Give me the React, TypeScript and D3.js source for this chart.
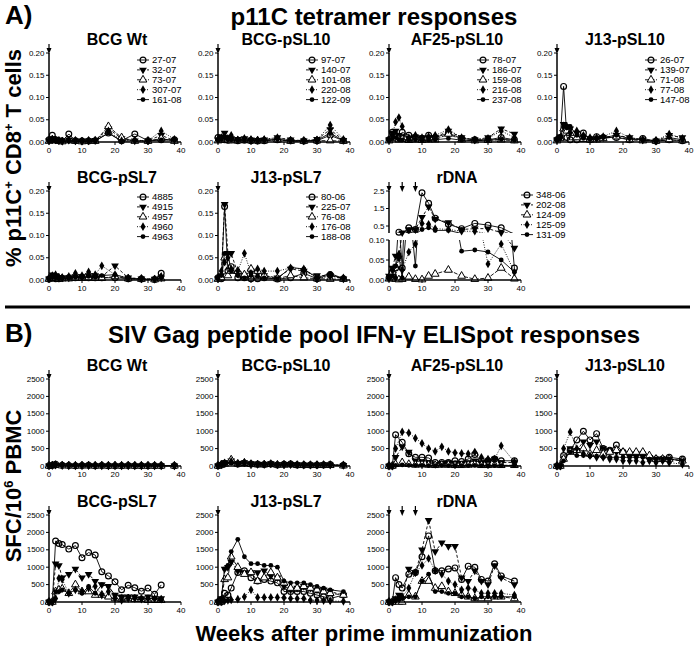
import React from 'react';
import * as d3 from 'd3';

// ---- layout ----
const W = 696;
const H = 651;
const COLS = [49, 218, 389, 557];
const PW = 132;
const FONT = 'Liberation Sans, Arial, sans-serif';

// ---- x values (weeks) ----
const weeksTet = [0, 1, 2, 3, 4, 6, 8, 10, 12, 14, 18, 22, 26, 30, 34, 38];
const weeksTet7 = [0, 1, 2, 3, 4, 6, 8, 10, 12, 14, 16, 20, 24, 28, 32, 34];
const weeksElis = [0, 1, 2, 4, 6, 8, 10, 12, 14, 16, 18, 20, 22, 24, 26, 28, 30, 32, 34, 38];
const weeksElis7 = [0, 1, 2, 3, 4, 6, 8, 10, 12, 14, 16, 18, 20, 22, 24, 26, 28, 30, 32, 34];
const weeksElisAll = [0, 1, 2, 3, 4, 6, 8, 10, 12, 14, 16, 18, 20, 22, 24, 26, 28, 30, 32, 34, 38];

// ---- animal ids ----
const idsBcgWt = ['27-07', '32-07', '73-07', '307-07', '161-08'];
const idsBcgPsl10 = ['97-07', '140-07', '101-08', '220-08', '122-09'];
const idsAf25 = ['78-07', '186-07', '159-08', '216-08', '237-08'];
const idsJ13Psl10 = ['26-07', '139-07', '71-08', '77-08', '147-08'];
const idsBcgPsl7 = ['4885', '4915', '4957', '4960', '4963'];
const idsJ13Psl7 = ['80-06', '225-07', '76-08', '176-08', '188-08'];
const idsRdna = ['348-06', '202-08', '124-09', '125-09', '131-09'];

// ---- A) p11C tetramer (% of CD8+ T cells) ----
const tetBcgWt = [
  [0.005, 0.015, 0.005, 0.003, 0.002, 0.018, 0.003, 0.002, 0.002, 0.003, 0.02, 0.003, 0.018, 0.003, 0.005, 0.005],
  [0.003, 0.008, 0.006, 0.004, 0.002, 0.005, 0.003, 0.002, 0.003, 0.004, 0.03, 0.008, 0.003, 0.003, 0.015, 0.003],
  [0.002, 0.004, 0.003, 0.002, 0.001, 0.003, 0.002, 0.001, 0.002, 0.002, 0.035, 0.01, 0.002, 0.002, 0.008, 0.002],
  [0.004, 0.006, 0.005, 0.003, 0.002, 0.004, 0.003, 0.002, 0.003, 0.004, 0.025, 0.003, 0.004, 0.003, 0.025, 0.006],
  [0.002, 0.003, 0.002, 0.001, 0.001, 0.002, 0.001, 0.001, 0.001, 0.002, 0.02, 0.002, 0.003, 0.002, 0.005, 0.004],
];
const tetBcgPsl10 = [
  [0.01, 0.008, 0.005, 0.004, 0.005, 0.003, 0.004, 0.003, 0.002, 0.003, 0.005, 0.003, 0.002, 0.003, 0.015, 0.003],
  [0.005, 0.012, 0.02, 0.01, 0.008, 0.006, 0.008, 0.005, 0.004, 0.005, 0.01, 0.005, 0.003, 0.006, 0.028, 0.004],
  [0.003, 0.005, 0.008, 0.004, 0.003, 0.003, 0.005, 0.003, 0.003, 0.003, 0.005, 0.002, 0.002, 0.003, 0.003, 0.002],
  [0.006, 0.01, 0.012, 0.008, 0.015, 0.005, 0.008, 0.006, 0.004, 0.006, 0.01, 0.004, 0.003, 0.005, 0.038, 0.006],
  [0.004, 0.006, 0.01, 0.006, 0.005, 0.004, 0.004, 0.003, 0.003, 0.004, 0.006, 0.003, 0.002, 0.004, 0.02, 0.003],
];
const tetAf25 = [
  [0.005, 0.022, 0.015, 0.01, 0.022, 0.015, 0.01, 0.008, 0.015, 0.01, 0.02, 0.008, 0.005, 0.005, 0.01, 0.005],
  [0.005, 0.02, 0.025, 0.015, 0.012, 0.008, 0.012, 0.01, 0.01, 0.01, 0.025, 0.01, 0.005, 0.01, 0.03, 0.018],
  [0.003, 0.01, 0.008, 0.005, 0.006, 0.004, 0.005, 0.004, 0.005, 0.005, 0.018, 0.005, 0.003, 0.004, 0.005, 0.003],
  [0.006, 0.015, 0.045, 0.055, 0.035, 0.01, 0.015, 0.01, 0.012, 0.015, 0.028, 0.01, 0.005, 0.008, 0.025, 0.01],
  [0.003, 0.008, 0.01, 0.006, 0.005, 0.004, 0.005, 0.004, 0.004, 0.005, 0.008, 0.004, 0.003, 0.004, 0.006, 0.004],
];
const tetJ13Psl10 = [
  [0.005, 0.01, 0.125, 0.01, 0.005, 0.005, 0.02, 0.005, 0.012, 0.01, 0.01, 0.005, 0.008, 0.002, 0.005, 0.003],
  [0.005, 0.012, 0.04, 0.035, 0.03, 0.02, 0.01, 0.008, 0.008, 0.01, 0.015, 0.01, 0.005, 0.002, 0.015, 0.01],
  [0.003, 0.008, 0.03, 0.025, 0.02, 0.01, 0.006, 0.005, 0.005, 0.008, 0.012, 0.005, 0.003, 0.002, 0.005, 0.003],
  [0.006, 0.01, 0.035, 0.035, 0.02, 0.025, 0.015, 0.01, 0.01, 0.012, 0.025, 0.01, 0.005, 0.003, 0.018, 0.008],
  [0.004, 0.008, 0.04, 0.032, 0.035, 0.015, 0.008, 0.006, 0.006, 0.01, 0.015, 0.008, 0.004, 0.002, 0.01, 0.005],
];
const tetBcgPsl7 = [
  [0.002, 0.005, 0.003, 0.003, 0.004, 0.005, 0.005, 0.006, 0.005, 0.005, 0.005, 0.005, 0.003, 0.002, 0.001, 0.015],
  [0.003, 0.012, 0.01, 0.005, 0.005, 0.005, 0.008, 0.008, 0.01, 0.01, 0.008, 0.032, 0.005, 0.003, 0.002, 0.005],
  [0.002, 0.004, 0.004, 0.003, 0.003, 0.003, 0.004, 0.004, 0.005, 0.004, 0.004, 0.008, 0.003, 0.002, 0.001, 0.003],
  [0.004, 0.01, 0.012, 0.006, 0.006, 0.008, 0.015, 0.01, 0.018, 0.012, 0.032, 0.012, 0.004, 0.003, 0.002, 0.008],
  [0.002, 0.006, 0.005, 0.004, 0.004, 0.004, 0.006, 0.005, 0.008, 0.006, 0.01, 0.012, 0.004, 0.002, 0.001, 0.005],
];
const tetJ13Psl7 = [
  [0.005, 0.003, 0.165, 0.02, 0.03, 0.005, 0.005, 0.003, 0.003, 0.005, 0.002, 0.005, 0.015, 0.003, 0.012, 0.003],
  [0.003, 0.01, 0.17, 0.06, 0.06, 0.015, 0.01, 0.02, 0.015, 0.01, 0.005, 0.025, 0.02, 0.01, 0.01, 0.003],
  [0.002, 0.005, 0.05, 0.01, 0.02, 0.02, 0.012, 0.025, 0.02, 0.01, 0.003, 0.01, 0.005, 0.003, 0.002, 0.002],
  [0.005, 0.02, 0.04, 0.05, 0.025, 0.02, 0.06, 0.015, 0.025, 0.02, 0.02, 0.027, 0.025, 0.003, 0.008, 0.005],
  [0.003, 0.01, 0.06, 0.06, 0.02, 0.01, 0.005, 0.01, 0.008, 0.005, 0.003, 0.028, 0.025, 0.005, 0.015, 0.003],
];
const tetRdna = [
  [0.005, 0.02, 0.03, 0.15, 0.03, 0.4, 0.3, 2.4, 1.8, 0.95, 0.6, 0.35, 0.65, 0.55, 0.4, 0.03],
  [0.01, 0.03, 0.06, 0.055, 0.12, 0.3, 0.3, 1.0, 1.6, 0.9, 0.7, 0.3, 0.35, 0.35, 0.12, 0.08],
  [0.003, 0.02, 0.002, 0.001, 0.002, 0.008, 0.002, 0.001, 0.01, 0.015, 0.025, 0.01, 0.002, 0.005, 0.03, 0.003],
  [0.005, 0.025, 0.005, 0.065, 0.025, 0.07, 0.09, 0.65, 0.6, 0.35, 0.3, 0.2, 0.2, 0.04, 0.09, 0.02],
  [0.003, 0.01, 0.035, 0.06, 0.005, 0.2, 0.035, 0.3, 0.4, 0.25, 0.25, 0.072, 0.075, 0.07, 0.05, 0.02],
];

// ---- B) ELISpot (SFC / 10^6 PBMC) ----
const elisBcgWt = [
  [10, 20, 50, 20, 15, 10, 15, 20, 10, 15, 10, 10, 10, 15, 10, 10, 10, 10, 10, 10],
  [5, 15, 30, 15, 10, 10, 10, 15, 10, 10, 10, 10, 10, 10, 10, 10, 10, 10, 10, 5],
  [5, 10, 20, 10, 10, 5, 10, 10, 5, 10, 5, 10, 5, 10, 5, 5, 5, 5, 5, 5],
  [10, 25, 40, 25, 20, 15, 20, 15, 15, 15, 15, 15, 15, 15, 15, 15, 15, 15, 15, 10],
  [5, 10, 30, 15, 10, 10, 10, 10, 10, 10, 10, 10, 10, 10, 10, 10, 10, 10, 10, 5],
];
const elisBcgPsl10 = [
  [10, 30, 80, 120, 60, 80, 60, 50, 40, 60, 30, 50, 60, 30, 30, 30, 30, 30, 40, 20],
  [5, 40, 100, 150, 80, 100, 70, 60, 50, 70, 40, 40, 50, 40, 30, 30, 30, 40, 30, 20],
  [5, 30, 60, 180, 60, 90, 50, 40, 40, 50, 30, 30, 40, 20, 20, 20, 20, 20, 20, 10],
  [10, 50, 90, 130, 70, 100, 60, 50, 50, 60, 40, 50, 40, 40, 40, 30, 40, 40, 40, 30],
  [5, 20, 50, 100, 40, 70, 40, 40, 30, 40, 20, 30, 30, 20, 20, 20, 20, 20, 20, 10],
];
const elisAf25 = [
  [0, 0, 900, 680, 350, 250, 250, 230, 100, 100, 100, 150, 130, 200, 330, 150, 150, 200, 150, 150],
  [0, 0, 250, 550, 400, 150, 120, 100, 50, 80, 100, 80, 80, 100, 150, 100, 100, 200, 100, 100],
  [0, 0, 50, 100, 50, 30, 40, 30, 20, 30, 30, 20, 20, 30, 40, 20, 20, 30, 20, 20],
  [0, 0, 500, 980, 950, 800, 650, 500, 420, 550, 420, 380, 360, 350, 400, 250, 200, 200, 580, 120],
  [0, 0, 20, 30, 20, 20, 20, 10, 10, 20, 10, 10, 10, 10, 20, 10, 10, 10, 10, 10],
];
const elisJ13Psl10 = [
  [0, 0, 300, 450, 750, 1000, 750, 930, 500, 450, 600, 400, 350, 350, 350, 250, 200, 200, 250, 200],
  [0, 0, 200, 500, 450, 700, 600, 700, 500, 450, 400, 350, 300, 300, 300, 250, 200, 200, 200, 150],
  [0, 0, 200, 400, 450, 500, 350, 450, 350, 400, 450, 400, 400, 400, 400, 300, 200, 200, 200, 150],
  [0, 0, 500, 980, 500, 350, 300, 250, 250, 200, 200, 150, 150, 150, 100, 150, 100, 150, 100, 50],
  [0, 0, 150, 400, 300, 300, 280, 280, 250, 250, 250, 250, 250, 250, 250, 200, 200, 200, 200, 150],
];
const elisBcgPsl7 = [
  [0, 0, 1750, 1680, 1650, 1520, 1620, 1270, 1420, 1350, 870, 750, 580, 350, 480, 410, 310, 400, 220, 490],
  [0, 0, 1100, 1050, 700, 800, 950, 700, 800, 600, 500, 450, 200, 150, 150, 150, 100, 150, 100, 100],
  [0, 0, 300, 350, 380, 250, 500, 300, 300, 200, 200, 150, 100, 80, 100, 80, 80, 50, 50, 50],
  [0, 0, 100, 680, 650, 250, 350, 300, 400, 450, 200, 300, 100, 50, 100, 100, 80, 100, 100, 80],
  [0, 0, 300, 300, 350, 250, 350, 250, 450, 250, 500, 450, 200, 150, 150, 150, 100, 100, 100, 50],
];
const elisJ13Psl7 = [
  [0, 0, 250, 200, 400, 850, 900, 700, 600, 650, 600, 550, 300, 300, 300, 300, 250, 200, 150, 100, 200],
  [0, 100, 950, 1000, 1150, 900, 850, 850, 850, 900, 750, 700, 450, 350, 400, 450, 400, 350, 350, 300, 200],
  [0, 50, 650, 700, 1300, 1000, 800, 850, 600, 700, 850, 700, 550, 400, 400, 450, 400, 350, 300, 250, 200],
  [0, 0, 30, 50, 60, 80, 150, 350, 130, 130, 130, 130, 120, 100, 100, 100, 50, 50, 40, 30, 20],
  [0, 100, 950, 1050, 1450, 1800, 1300, 1100, 1100, 1050, 1050, 1000, 600, 550, 550, 550, 500, 450, 400, 350, 300],
];
const elisRdna = [
  [0, 0, 700, 500, 400, 800, 850, 1300, 1900, 900, 900, 950, 980, 650, 1030, 1000, 650, 600, 1100, 750, 600],
  [0, 0, 100, 200, 100, 950, 850, 1500, 2350, 1450, 1700, 1600, 1600, 700, 600, 900, 600, 500, 1050, 700, 500],
  [0, 0, 50, 0, 0, 200, 150, 600, 600, 400, 450, 300, 250, 200, 150, 100, 100, 100, 150, 150, 100],
  [0, 0, 50, 100, 150, 400, 850, 1050, 1250, 900, 800, 600, 500, 350, 400, 350, 250, 250, 250, 250, 200],
  [0, 0, 50, 80, 100, 150, 150, 600, 800, 300, 300, 250, 250, 150, 150, 100, 150, 150, 150, 150, 150],
];

const DASHES = [undefined, '3,2', '4,1.5', '1,1.5', undefined];

const sym = (type: d3.SymbolType, size: number) => d3.symbol().type(type).size(size)() as string;

function Marker({ i, cx, cy }: { i: number; cx: number; cy: number }) {
  const t = `translate(${cx},${cy})`;
  if (i === 0) return <circle cx={cx} cy={cy} r={2.9} fill="none" stroke="#000" strokeWidth={1.2} />;
  if (i === 1) return <path transform={`${t} rotate(180)`} d={sym(d3.symbolTriangle, 26)} fill="#000" />;
  if (i === 2) return <path transform={t} d={sym(d3.symbolTriangle, 26)} fill="#fff" stroke="#000" strokeWidth={1} />;
  if (i === 3) return <path transform={t} d={sym(d3.symbolDiamond, 22)} fill="#000" />;
  return <circle cx={cx} cy={cy} r={2.4} fill="#000" />;
}

type Kind = 'tet' | 'rdna' | 'elispot';

interface PanelProps {
  col: number;
  top: number;
  title: string;
  weeks: number[];
  data: number[][];
  kind: Kind;
  ids?: string[];
  legend?: [number, number];
  arrows?: number[];
}

function Panel({ col, top, title, weeks, data, kind, ids, legend, arrows = [0] }: PanelProps) {
  const left = COLS[col];
  const x = d3.scaleLinear().domain([0, 40]).range([left, left + PW]);
  const bottom = top + (kind === 'elispot' ? 87 : 89);
  const key = `c${col}-${top}`;

  let layers: { y: d3.ScaleLinear<number, number>; ticks: number[]; fmt: (v: number) => string; clip?: [number, number]; has: (v: number) => boolean }[];
  if (kind === 'rdna') {
    // broken axis: 0-0.10 below, 0.1-2.5 above
    const lo = d3.scaleLinear().domain([0, 0.1]).range([bottom, bottom - 40]);
    const hi = d3.scaleLinear().domain([0.1, 2.5]).range([top + 42, top]);
    layers = [
      { y: lo, ticks: [0, 0.05, 0.1], fmt: d3.format('.2f'), clip: [bottom - 40, bottom + 8], has: (v) => v <= 0.1 },
      { y: hi, ticks: [0.5, 1.5, 2.5], fmt: d3.format('.1f'), clip: [top - 8, top + 42], has: (v) => v > 0.1 },
    ];
  } else if (kind === 'tet') {
    const y = d3.scaleLinear().domain([0, 0.2]).range([bottom, top]);
    layers = [{ y, ticks: y.ticks(4), fmt: d3.format('.2f'), has: () => true }];
  } else {
    const y = d3.scaleLinear().domain([0, 2500]).range([bottom, top]);
    layers = [{ y, ticks: y.ticks(5), fmt: d3.format('d'), has: () => true }];
  }

  return (
    <g>
      <text x={left + 68} y={top - 8} textAnchor="middle" fontSize={16} fontWeight="bold">{title}</text>
      {layers.map((L, li) => {
        const line = d3.line<number>().x((_, j) => x(weeks[j])).y((v) => L.y(v));
        const id = `${key}-${li}`;
        return (
          <g key={li}>
            {L.clip && (
              <clipPath id={id}>
                <rect x={left - 8} y={L.clip[0]} width={PW + 16} height={L.clip[1] - L.clip[0]} />
              </clipPath>
            )}
            {data.map((s, si) => (
              <g key={si}>
                <path d={line(s) as string} fill="none" stroke="#000" strokeWidth={0.9} strokeDasharray={DASHES[si]}
                  clipPath={L.clip ? `url(#${id})` : undefined} />
                {s.map((v, j) => (L.has(v) ? <Marker key={j} i={si} cx={x(weeks[j])} cy={L.y(v)} /> : null))}
              </g>
            ))}
            {/* y axis */}
            <line x1={left} x2={left} y1={L.y.range()[0]} y2={L.y.range()[1]} stroke="#000" strokeWidth={1.5} />
            {L.ticks.map((t) => (
              <g key={t}>
                <line x1={left - 3} x2={left} y1={L.y(t)} y2={L.y(t)} stroke="#000" strokeWidth={1} />
                <text x={left - 4.5} y={L.y(t)} dy="0.33em" textAnchor="end" fontSize={8}>{L.fmt(t)}</text>
              </g>
            ))}
          </g>
        );
      })}
      {/* x axis */}
      <line x1={left - 0.75} x2={left + PW} y1={bottom} y2={bottom} stroke="#000" strokeWidth={1.5} />
      {x.ticks(4).map((t) => (
        <g key={t}>
          <line x1={x(t)} x2={x(t)} y1={bottom} y2={bottom + 3} stroke="#000" strokeWidth={1} />
          <text x={x(t)} y={bottom + 11} textAnchor="middle" fontSize={8}>{t}</text>
        </g>
      ))}
      {/* immunization arrows */}
      {arrows.map((a) => (
        <g key={a}>
          <line x1={x(a)} x2={x(a)} y1={top - 9} y2={top - 3} stroke="#000" strokeWidth={1.2} />
          <path d={`M${x(a) - 2.5},${top - 5}L${x(a) + 2.5},${top - 5}L${x(a)},${top + 1}Z`} fill="#000" />
        </g>
      ))}
      {ids && legend &&
        ids.map((name, i) => {
          const lx = left + legend[0];
          const ly = top + legend[1] + i * 9.9;
          return (
            <g key={name}>
              <line x1={lx - 6} x2={lx + 6} y1={ly} y2={ly} stroke="#000" strokeWidth={0.9} strokeDasharray={DASHES[i]} />
              <Marker i={i} cx={lx} cy={ly} />
              <text x={lx + 9} y={ly} dy="0.35em" fontSize={9.5}>{name}</text>
            </g>
          );
        })}
    </g>
  );
}

export default function App() {
  const A1 = 53;
  const A2 = 191;
  const B1 = 379;
  const B2 = 515;
  return (
    <svg width={W} height={H} style={{ position: 'absolute', left: 0, top: 0, background: '#fff' }} fontFamily={FONT}>
      <rect width={W} height={H} fill="#fff" />
      <text x={5} y={24} fontSize={26} fontWeight="bold">A)</text>
      <text x={374} y={25} textAnchor="middle" fontSize={24} fontWeight="bold">p11C tetramer responses</text>

      <Panel col={0} top={A1} title="BCG Wt" weeks={weeksTet} data={tetBcgWt} kind="tet" ids={idsBcgWt} legend={[94, 7]} />
      <Panel col={1} top={A1} title="BCG-pSL10" weeks={weeksTet} data={tetBcgPsl10} kind="tet" ids={idsBcgPsl10} legend={[94, 7]} />
      <Panel col={2} top={A1} title="AF25-pSL10" weeks={weeksTet} data={tetAf25} kind="tet" ids={idsAf25} legend={[94, 7]} />
      <Panel col={3} top={A1} title="J13-pSL10" weeks={weeksTet} data={tetJ13Psl10} kind="tet" ids={idsJ13Psl10} legend={[94, 7]} />
      <Panel col={0} top={A2} title="BCG-pSL7" weeks={weeksTet7} data={tetBcgPsl7} kind="tet" ids={idsBcgPsl7} legend={[94, 6]} />
      <Panel col={1} top={A2} title="J13-pSL7" weeks={weeksTet} data={tetJ13Psl7} kind="tet" ids={idsJ13Psl7} legend={[94, 6]} />
      <Panel col={2} top={A2} title="rDNA" weeks={weeksTet} data={tetRdna} kind="rdna" ids={idsRdna} legend={[138, 4]} arrows={[0, 4, 8]} />

      <text transform="translate(21,158) rotate(-90)" textAnchor="middle" fontSize={22} fontWeight="bold">
        % p11C<tspan dy={-8} fontSize={13}>+</tspan>
        <tspan dy={8}> CD8</tspan>
        <tspan dy={-8} fontSize={13}>+</tspan>
        <tspan dy={8}> T cells</tspan>
      </text>

      <line x1={5} x2={690} y1={307} y2={307} stroke="#000" strokeWidth={3} />

      <text x={5} y={342} fontSize={26} fontWeight="bold">B)</text>
      <text x={374} y={343} textAnchor="middle" fontSize={24} fontWeight="bold">SIV Gag peptide pool IFN-γ ELISpot responses</text>

      <Panel col={0} top={B1} title="BCG Wt" weeks={weeksElis} data={elisBcgWt} kind="elispot" />
      <Panel col={1} top={B1} title="BCG-pSL10" weeks={weeksElis} data={elisBcgPsl10} kind="elispot" />
      <Panel col={2} top={B1} title="AF25-pSL10" weeks={weeksElis} data={elisAf25} kind="elispot" />
      <Panel col={3} top={B1} title="J13-pSL10" weeks={weeksElis} data={elisJ13Psl10} kind="elispot" />
      <Panel col={0} top={B2} title="BCG-pSL7" weeks={weeksElis7} data={elisBcgPsl7} kind="elispot" />
      <Panel col={1} top={B2} title="J13-pSL7" weeks={weeksElisAll} data={elisJ13Psl7} kind="elispot" />
      <Panel col={2} top={B2} title="rDNA" weeks={weeksElisAll} data={elisRdna} kind="elispot" arrows={[0, 4, 8]} />

      <text transform="translate(21,486) rotate(-90)" textAnchor="middle" fontSize={22} fontWeight="bold">
        SFC/10<tspan dy={-8} fontSize={13}>6</tspan>
        <tspan dy={8}> PBMC</tspan>
      </text>

      <text x={364} y={641} textAnchor="middle" fontSize={22} fontWeight="bold">Weeks after prime immunization</text>
    </svg>
  );
}
